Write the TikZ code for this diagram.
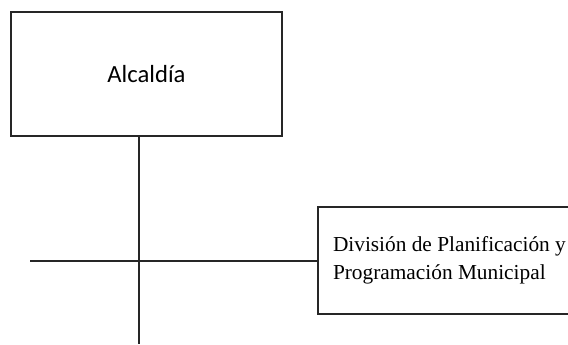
\documentclass[tikz,border=0pt]{standalone}
\usepackage{fontspec}
\setmainfont{Liberation Serif}
\newfontfamily\alcfont{Carlito}
\usetikzlibrary{positioning}

\begin{document}
\begin{tikzpicture}[x=0.75pt,y=-0.75pt,
  orgbox/.style={draw=black!85,line width=1.1pt,inner sep=0pt,outer sep=0pt},
  orgline/.style={draw=black!85,line width=1.1pt}]
  \useasboundingbox (0,0) rectangle (568,345);
  \node[orgbox,minimum width=203.25pt,minimum height=93pt,
        font=\alcfont\fontsize{18.5}{22}\selectfont] (alc) at (146.5,74) {Alcald\'ia};
  \node[orgbox,minimum width=211.5pt,minimum height=80.25pt,anchor=west,
        inner xsep=11.25pt,text width=189pt,align=flush left,
        font=\fontsize{16}{21}\selectfont] (div) at (318,260.5)
        {Divisi\'on de Planificaci\'on y\\Programaci\'on Municipal};
  \coordinate (hl) at (30,261);
  \coordinate (vb) at (139,344);
  \draw[orgline] (hl) -- (hl -| div.west);
  \draw[orgline] (alc.south -| vb) -- (vb);
\end{tikzpicture}
\end{document}
